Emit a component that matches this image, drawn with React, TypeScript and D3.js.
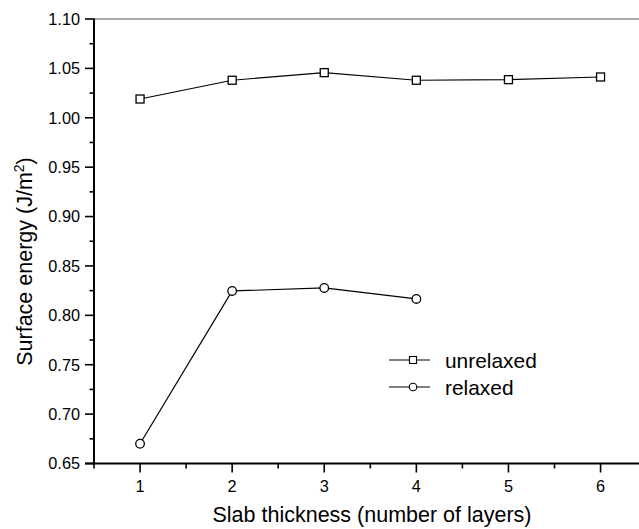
import React from "react";
import * as d3 from "d3";

const layers = [1, 2, 3, 4, 5, 6];
const unrelaxed = [1.019, 1.038, 1.0457, 1.038, 1.0386, 1.0413];
const relaxedLayers = [1, 2, 3, 4];
const relaxed = [0.67, 0.8247, 0.8277, 0.8166];
const yTicks = [0.65, 0.7, 0.75, 0.8, 0.85, 0.9, 0.95, 1.0, 1.05, 1.1];
const yMinor = [0.675, 0.725, 0.775, 0.825, 0.875, 0.925, 0.975, 1.025, 1.075];
const xMinor = [0.5, 1.5, 2.5, 3.5, 4.5, 5.5, 6.5];

const W = 639;
const H = 529;
const FONT = "'Liberation Sans', Arial, Helvetica, sans-serif";

export default function App() {
  const x = d3.scaleLinear().domain([0.5, 6.5]).range([94, 646.6]);
  const y = d3.scaleLinear().domain([0.65, 1.1]).range([463.5, 19]);
  const line = d3
    .line<[number, number]>()
    .x((d) => x(d[0]))
    .y((d) => y(d[1]));
  const uPts: [number, number][] = layers.map((l, i) => [l, unrelaxed[i]]);
  const rPts: [number, number][] = relaxedLayers.map((l, i) => [l, relaxed[i]]);
  const x0 = x(0.5);
  const yb = y(0.65);
  const yt = y(1.1);

  return (
    <svg
      width={W}
      height={H}
      style={{ position: "absolute", left: 0, top: 0, background: "#fff" }}
      fontFamily={FONT}
    >
      <rect width={W} height={H} fill="#fff" />
      {/* top border */}
      <line x1={x0} x2={W} y1={yt} y2={yt} stroke="#555" strokeWidth={1} />
      {/* y axis */}
      <line x1={x0} x2={x0} y1={yt - 0.5} y2={yb + 1} stroke="#000" strokeWidth={2} />
      {yTicks.map((t) => (
        <g key={"yt" + t}>
          <line x1={x0 - 9} x2={x0} y1={y(t)} y2={y(t)} stroke="#000" strokeWidth={1.6} />
          <text
            x={80}
            y={y(t)}
            dy="0.36em"
            textAnchor="end"
            fontSize={16.3}
            fill="#000"
          >
            {t.toFixed(2)}
          </text>
        </g>
      ))}
      {yMinor.map((t) => (
        <line key={"ym" + t} x1={x0 - 4.5} x2={x0} y1={y(t)} y2={y(t)} stroke="#000" strokeWidth={1.6} />
      ))}
      {/* x axis */}
      <line x1={x0 - 9} x2={W} y1={yb} y2={yb} stroke="#000" strokeWidth={2} />
      {layers.map((t) => (
        <g key={"xt" + t}>
          <line x1={x(t)} x2={x(t)} y1={yb} y2={yb + 9} stroke="#000" strokeWidth={1.6} />
          <text x={x(t)} y={492} textAnchor="middle" fontSize={16.3} fill="#000">
            {t}
          </text>
        </g>
      ))}
      {xMinor.map((t) => (
        <line key={"xm" + t} x1={x(t)} x2={x(t)} y1={yb} y2={yb + 5} stroke="#000" strokeWidth={1.6} />
      ))}
      {/* series lines */}
      <path d={line(uPts) || ""} fill="none" stroke="#000" strokeWidth={1.2} />
      <path d={line(rPts) || ""} fill="none" stroke="#000" strokeWidth={1.2} />
      {uPts.map((p, i) => (
        <rect
          key={"u" + i}
          x={x(p[0]) - 4}
          y={y(p[1]) - 4}
          width={8}
          height={8}
          fill="#fff"
          stroke="#000"
          strokeWidth={1.3}
        />
      ))}
      {rPts.map((p, i) => (
        <circle
          key={"r" + i}
          cx={x(p[0])}
          cy={y(p[1])}
          r={4.3}
          fill="#fff"
          stroke="#000"
          strokeWidth={1.3}
        />
      ))}
      {/* legend */}
      <g>
        <line x1={389} x2={430} y1={360} y2={360} stroke="#000" strokeWidth={1.2} />
        <rect x={409.5} y={356.5} width={7} height={7} fill="#fff" stroke="#000" strokeWidth={1.1} />
        <text x={445} y={360} dy="0.36em" fontSize={20.9} fill="#000">
          unrelaxed
        </text>
        <line x1={389} x2={430} y1={387} y2={387} stroke="#000" strokeWidth={1.2} />
        <circle cx={413} cy={387} r={3.8} fill="#fff" stroke="#000" strokeWidth={1.1} />
        <text x={445} y={387} dy="0.36em" fontSize={20.9} fill="#000">
          relaxed
        </text>
      </g>
      {/* axis titles */}
      <text x={372} y={522} textAnchor="middle" fontSize={21.5} fill="#000">
        Slab thickness (number of layers)
      </text>
      <text
        transform={`translate(32, 261.5) rotate(-90)`}
        textAnchor="middle"
        fontSize={21.5}
        fill="#000"
      >
        Surface energy (J/m
        <tspan baselineShift="super" fontSize={14}>
          2
        </tspan>
        )
      </text>
    </svg>
  );
}
